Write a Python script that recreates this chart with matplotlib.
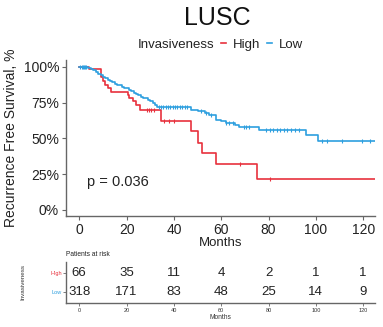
import numpy as np
import matplotlib
matplotlib.use("Agg")
import matplotlib.pyplot as plt
from matplotlib.lines import Line2D

plt.rcParams['font.family'] = ['Liberation Sans', 'DejaVu Sans']

# ---- data ----
title = "LUSC"
groups = ["High", "Low"]
colors = ["#E8313D", "#2E9FDF"]

high_t = [0, 4, 9, 10, 11, 12, 13.5, 20.5, 21.2, 22.8, 24, 25.5, 34.6, 47.4, 50.3, 52, 57.9, 75.1]
high_s = [1.0, 0.985, 0.93, 0.90, 0.87, 0.85, 0.825, 0.80, 0.78, 0.76, 0.735, 0.70, 0.62, 0.55, 0.47, 0.40, 0.32, 0.215]
high_cens = [28.5, 29.5, 30.5, 31.5, 36, 38, 40, 68, 80.5]

low_t = [0, 3.7, 5, 6, 7, 8, 9, 10, 11, 12, 13, 14, 15, 16, 17, 18, 19, 20, 21, 22, 23, 24, 25,
         26, 27, 28, 29, 30, 31, 32, 33, 47.2, 50, 53, 55, 58, 60, 62, 66, 67.5, 76, 96, 101]
low_s = [1.0, 0.993, 0.985, 0.975, 0.962, 0.95, 0.94, 0.93, 0.92, 0.91, 0.90, 0.89, 0.88, 0.875,
         0.87, 0.86, 0.855, 0.85, 0.84, 0.83, 0.82, 0.81, 0.80, 0.79, 0.785, 0.78, 0.77, 0.76,
         0.75, 0.735, 0.722, 0.70, 0.69, 0.68, 0.665, 0.63, 0.62, 0.61, 0.595, 0.58, 0.56, 0.525, 0.485]
low_cens = [0.5, 1, 1.5, 2, 2.5, 3, 33.5, 34.5, 35.5, 36.5, 37.5, 38.5, 39.5, 40.5, 41.5, 42.5, 43.5,
            44.5, 45.5, 51.5, 53.5, 55.5, 62, 63.5, 65, 69.6, 70.5, 71.7, 79, 80.5, 82, 83.5, 85,
            86.5, 88, 89.5, 91, 93, 102.5, 104.6, 111, 119.6, 123]
end_time = 125

risk_times = [0, 20, 40, 60, 80, 100, 120]
risk_high = [66, 35, 11, 4, 2, 1, 1]
risk_low = [318, 171, 83, 48, 25, 14, 9]
p_text = "p = 0.036"

# ---- figure ----
W, H = 383, 327
fig = plt.figure(figsize=(W / 100, H / 100), dpi=100)
ax = fig.add_axes([66 / W, 1 - 216 / H, (375 - 66) / W, (216 - 60) / H])

spine_c = "#666666"
txt_c = "#222222"
series = [(high_t, high_s, high_cens), (low_t, low_s, low_cens)]
for (t, s, cens), c, g in zip(series, colors, groups):
    tt = list(t) + [end_time]
    ss = list(s) + [s[-1]]
    ax.step(tt, ss, where="post", color=c, lw=1.2, label=g)
    idx = np.searchsorted(np.array(t), np.array(cens), side="right") - 1
    cy = np.array(s)[idx]
    ax.plot(cens, cy, ls="none", marker="|", ms=3.5, mew=0.8, color=c)

ax.set_xlim(-5.6, 125)
ax.set_ylim(-0.042, 1.047)
ax.set_xticks(risk_times)
ax.set_yticks([0, 0.25, 0.5, 0.75, 1.0])
ax.set_yticklabels(["0%", "25%", "50%", "75%", "100%"])
ax.tick_params(labelsize=10, colors=spine_c, labelcolor=txt_c, length=3, width=0.8, pad=2)
for sp in ["top", "right"]:
    ax.spines[sp].set_visible(False)
for sp in ["left", "bottom"]:
    ax.spines[sp].set_color(spine_c)
    ax.spines[sp].set_linewidth(1.0)
ax.set_xlabel("Months", fontsize=9.5, color=txt_c, labelpad=0)
ax.set_ylabel("Recurrence Free Survival, %", fontsize=10, color=txt_c, labelpad=4)
ax.text(3.2, 0.198, p_text, fontsize=10.5, va="center", ha="left", color=txt_c)

fig.text(0.568, 1 - 18 / H, title, fontsize=18, ha="center", va="center", color="#111111")

handles = [Line2D([], [], alpha=0), Line2D([], [], color=colors[0], lw=1.2),
           Line2D([], [], color=colors[1], lw=1.2)]
fig.legend(handles, ["Invasiveness"] + groups, ncol=3, loc="center",
           bbox_to_anchor=(0.56, 1 - 45 / H), frameon=False, fontsize=9.5,
           handlelength=0.4, handletextpad=0.5, columnspacing=0.5, labelcolor=txt_c)

# ---- risk table ----
axr = fig.add_axes([66 / W, 1 - 303 / H, (375 - 66) / W, (303 - 262) / H])
axr.set_xlim(-5.6, 125)
axr.set_ylim(-0.56, 1.6)
for x, h, l in zip(risk_times, risk_high, risk_low):
    axr.text(x, 1, str(h), ha="center", va="center", fontsize=9.5, color=txt_c)
    axr.text(x, 0, str(l), ha="center", va="center", fontsize=9.5, color=txt_c)
axr.set_xticks(risk_times)
axr.set_yticks([1, 0])
axr.set_yticklabels(groups, fontsize=4)
axr.tick_params(axis="x", labelsize=4, length=2, width=0.6, colors=spine_c, labelcolor="#333333", pad=1.5)
axr.tick_params(axis="y", length=2, width=0.6, colors=spine_c, pad=1)
for lbl, c in zip(axr.get_yticklabels(), colors):
    lbl.set_color(c)
for sp in ["top", "right"]:
    axr.spines[sp].set_visible(False)
for sp in ["left", "bottom"]:
    axr.spines[sp].set_color(spine_c)
    axr.spines[sp].set_linewidth(1.0)
axr.set_xlabel("Months", fontsize=4.8, color="#333333", labelpad=0.5)
fig.text(66 / W, 1 - 255 / H, "Patients at risk", fontsize=4.8, ha="left", va="center", color=txt_c)
fig.text(23 / W, 1 - 282 / H, "Invasiveness", fontsize=4.5, rotation=90, ha="center", va="center", color="#333333")

fig.savefig("out.png", dpi=100)
